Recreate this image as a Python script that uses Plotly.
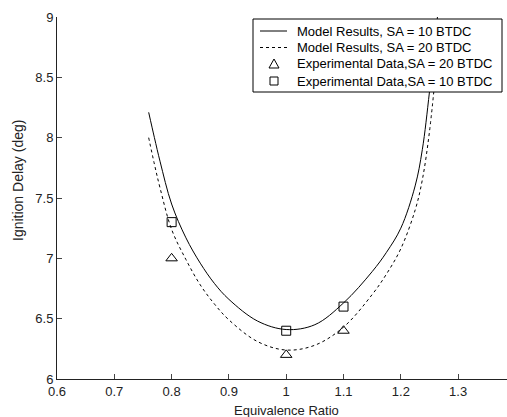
import plotly.graph_objects as go

# Model curves
phi_model = [0.76, 0.77, 0.78, 0.80, 0.825, 0.85, 0.875, 0.90, 0.95, 1.00, 1.05, 1.10, 1.15, 1.175, 1.20, 1.225, 1.2375, 1.25, 1.265]
delay_sa10 = [8.21, 8.00, 7.80, 7.45, 7.17, 6.96, 6.79, 6.66, 6.48, 6.41, 6.45, 6.63, 6.89, 7.05, 7.25, 7.60, 7.90, 8.38, 9.05]
delay_sa20 = [8.00, 7.78, 7.58, 7.24, 6.99, 6.78, 6.62, 6.49, 6.31, 6.24, 6.28, 6.43, 6.70, 6.87, 7.08, 7.40, 7.65, 8.05, 8.75]

# Experimental data
phi_exp = [0.8, 1.0, 1.1]
exp_sa20 = [7.0, 6.2, 6.4]
exp_sa10 = [7.3, 6.4, 6.6]

x_ticks = [0.6, 0.7, 0.8, 0.9, 1.0, 1.1, 1.2, 1.3]
y_ticks = [6, 6.5, 7, 7.5, 8, 8.5, 9]

legend_labels = ["Model Results, SA = 10 BTDC", "Model Results, SA = 20 BTDC",
                 "Experimental Data,SA = 20 BTDC", "Experimental Data,SA = 10 BTDC"]

FONT = "Liberation Sans, Arial, sans-serif"

# plot-area geometry (pixels)
W, H = 507, 417
L, R, T, B = 57, 0, 17, 38
PW, PH = W - L - R, H - T - B


def px(x):
    return (x - L) / PW


def py(y):
    return 1 - (y - T) / PH


fig = go.Figure()
fig.add_trace(go.Scatter(x=phi_model, y=delay_sa10, mode="lines", line_shape="spline",
                         line=dict(color="black", width=1), name=legend_labels[0]))
fig.add_trace(go.Scatter(x=phi_model, y=delay_sa20, mode="lines", line_shape="spline",
                         line=dict(color="black", width=1, dash="3px,3px"), name=legend_labels[1]))
fig.add_trace(go.Scatter(x=phi_exp, y=exp_sa20, mode="markers",
                         marker=dict(symbol="triangle-up-open", size=10, color="black", line=dict(width=1)),
                         name=legend_labels[2]))
fig.add_trace(go.Scatter(x=phi_exp, y=exp_sa10, mode="markers",
                         marker=dict(symbol="square-open", size=9, color="black", line=dict(width=1)),
                         name=legend_labels[3]))

# manual legend (box, samples, labels)
shapes = [dict(type="rect", xref="paper", yref="paper", x0=px(253), x1=px(502), y0=py(92), y1=py(19),
               fillcolor="white", line=dict(color="black", width=1), layer="above")]
row_y = [31, 47.5, 64, 81]
shapes.append(dict(type="line", xref="paper", yref="paper", x0=px(260), x1=px(287), y0=py(row_y[0]), y1=py(row_y[0]),
                   line=dict(color="black", width=1), layer="above"))
shapes.append(dict(type="line", xref="paper", yref="paper", x0=px(260), x1=px(287), y0=py(row_y[1]), y1=py(row_y[1]),
                   line=dict(color="black", width=1, dash="3px,3px"), layer="above"))
# triangle sample
cx, cy = 274, row_y[2]
shapes.append(dict(type="path", xref="paper", yref="paper",
                   path="M {} {} L {} {} L {} {} Z".format(px(cx - 5), py(cy + 4), px(cx + 5), py(cy + 4), px(cx), py(cy - 5)),
                   line=dict(color="black", width=1), layer="above"))
# square sample
cy = row_y[3]
shapes.append(dict(type="rect", xref="paper", yref="paper", x0=px(cx - 4), x1=px(cx + 4), y0=py(cy + 4), y1=py(cy - 4),
                   line=dict(color="black", width=1), layer="above"))

annotations = []
for lab, ry in zip(legend_labels, row_y):
    annotations.append(dict(text=lab, x=px(295), y=py(ry), xref="paper", yref="paper", xanchor="left",
                            yanchor="middle", showarrow=False, font=dict(size=13, color="black")))
annotations.append(dict(text="Equivalence Ratio", x=1.0, y=0, xref="x", yref="paper",
                        yshift=-31, yanchor="middle", showarrow=False, font=dict(size=13)))
annotations.append(dict(text="Ignition Delay (deg)", x=px(18), y=py(181), xref="paper", yref="paper",
                        xanchor="center", yanchor="middle", showarrow=False, textangle=-90, font=dict(size=14)))

fig.update_layout(
    width=W, height=H,
    margin=dict(l=L, r=R, t=T, b=B),
    paper_bgcolor="white", plot_bgcolor="white",
    font=dict(family=FONT, size=13, color="#222"),
    showlegend=False,
    xaxis=dict(range=[0.6, 1.3853], tickvals=x_ticks, ticks="inside", ticklen=5,
               showgrid=False, zeroline=False, showline=True, linecolor="#222", linewidth=1,
               tickfont=dict(size=13)),
    yaxis=dict(range=[6, 9], tickvals=y_ticks, ticks="inside", ticklen=5,
               showgrid=False, zeroline=False, showline=True, linecolor="#222", linewidth=1,
               tickfont=dict(size=13)),
    shapes=shapes,
    annotations=annotations,
)

fig.write_html("out.html", config={"displayModeBar": False},
               post_script="document.body.style.margin='0';")
